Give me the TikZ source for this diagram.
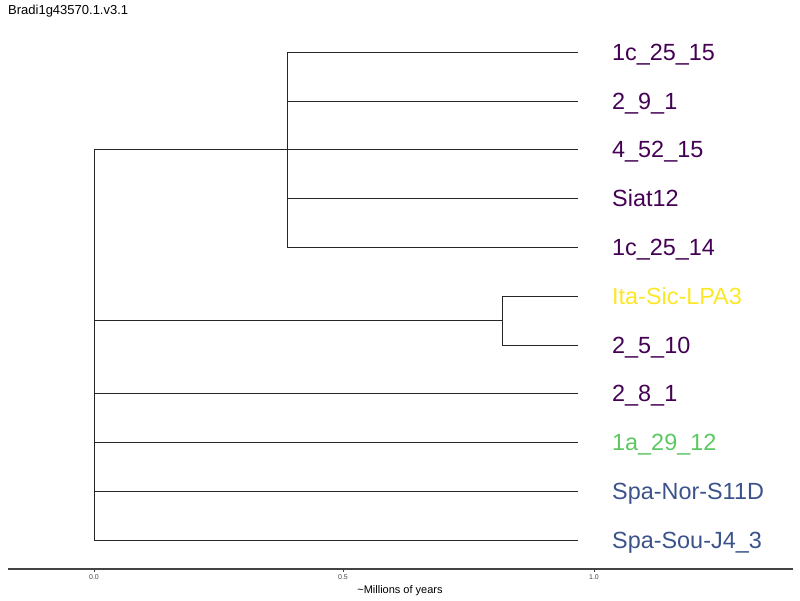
\documentclass[tikz,border=0pt]{standalone}
\usepackage{fontspec}
\setmainfont{Liberation Sans}
\definecolor{vpurple}{HTML}{440154}
\definecolor{vyellow}{HTML}{FDE725}
\definecolor{vgreen}{HTML}{5DC863}
\definecolor{vblue}{HTML}{3B528B}
\definecolor{axisgray}{HTML}{444444}
\begin{document}
\begin{tikzpicture}[x=1pt,y=-1pt,
  edge/.style={line width=0.9pt,black!85},
  leaf/.style={anchor=base west,inner sep=0pt,font=\fontsize{23.4}{23.4}\selectfont},
  ticklab/.style={anchor=base,inner sep=0pt,font=\fontsize{7}{7}\selectfont,text=axisgray},
]
\useasboundingbox (0,0) rectangle (800,600);
\node[anchor=base west,inner sep=0pt,font=\fontsize{13}{13}\selectfont] (title) at (8,14) {Bradi1g43570.1.v3.1};
% internal nodes
\coordinate (rt) at (94,149);
\coordinate (rb) at (94,540);
\coordinate (A) at (287,149);
\coordinate (At) at (287,52);
\coordinate (Ab) at (287,247);
\coordinate (B) at (502,320);
\coordinate (Bt) at (502,296);
\coordinate (Bb) at (502,345);
% leaf ends
\coordinate (l1) at (578,52);
\coordinate (l2) at (578,101);
\coordinate (l3) at (578,149);
\coordinate (l4) at (578,198);
\coordinate (l5) at (578,247);
\coordinate (l6) at (578,296);
\coordinate (l7) at (578,345);
\coordinate (l8) at (578,393);
\coordinate (l9) at (578,442);
\coordinate (l10) at (578,491);
\coordinate (l11) at (578,540);
% labels
\node[leaf,text=vpurple] (t1) at (612,60) {1c\_25\_15};
\node[leaf,text=vpurple] (t2) at (612,109) {2\_9\_1};
\node[leaf,text=vpurple] (t3) at (612,157) {4\_52\_15};
\node[leaf,text=vpurple] (t4) at (612,206) {Siat12};
\node[leaf,text=vpurple] (t5) at (612,255) {1c\_25\_14};
\node[leaf,text=vyellow] (t6) at (612,304) {Ita-Sic-LPA3};
\node[leaf,text=vpurple] (t7) at (612,353) {2\_5\_10};
\node[leaf,text=vpurple] (t8) at (612,401) {2\_8\_1};
\node[leaf,text=vgreen] (t9) at (612,450) {1a\_29\_12};
\node[leaf,text=vblue] (t10) at (612,499) {Spa-Nor-S11D};
\node[leaf,text=vblue] (t11) at (612,548) {Spa-Sou-J4\_3};
% edges
\draw[edge] (rt) -- (rb);
\draw[edge] (rt) -- (A);
\draw[edge] (B -| rt) -- (B);
\draw[edge] (l8 -| rt) -- (l8);
\draw[edge] (l9 -| rt) -- (l9);
\draw[edge] (l10 -| rt) -- (l10);
\draw[edge] (rb) -- (l11);
\draw[edge] (At) -- (Ab);
\draw[edge] (At) -- (l1);
\draw[edge] (l2 -| A) -- (l2);
\draw[edge] (A) -- (l3);
\draw[edge] (l4 -| A) -- (l4);
\draw[edge] (Ab) -- (l5);
\draw[edge] (Bt) -- (Bb);
\draw[edge] (Bt) -- (l6);
\draw[edge] (Bb) -- (l7);
% axis
\coordinate (axL) at (8,569);
\coordinate (axR) at (793,569);
\draw[line width=1.3pt,axisgray] (axL) -- (axR);
\foreach \x/\lab in {94/0.0,343/0.5,594/1.0}{
  \draw[line width=0.5pt,axisgray] (\x,569) -- (\x,572);
  \node[ticklab] at (\x,579) {\lab};
}
\node[anchor=base,inner sep=0pt,font=\fontsize{11}{11}\selectfont] (axt) at (400,593) {\textasciitilde Millions of years};
\end{tikzpicture}
\end{document}
